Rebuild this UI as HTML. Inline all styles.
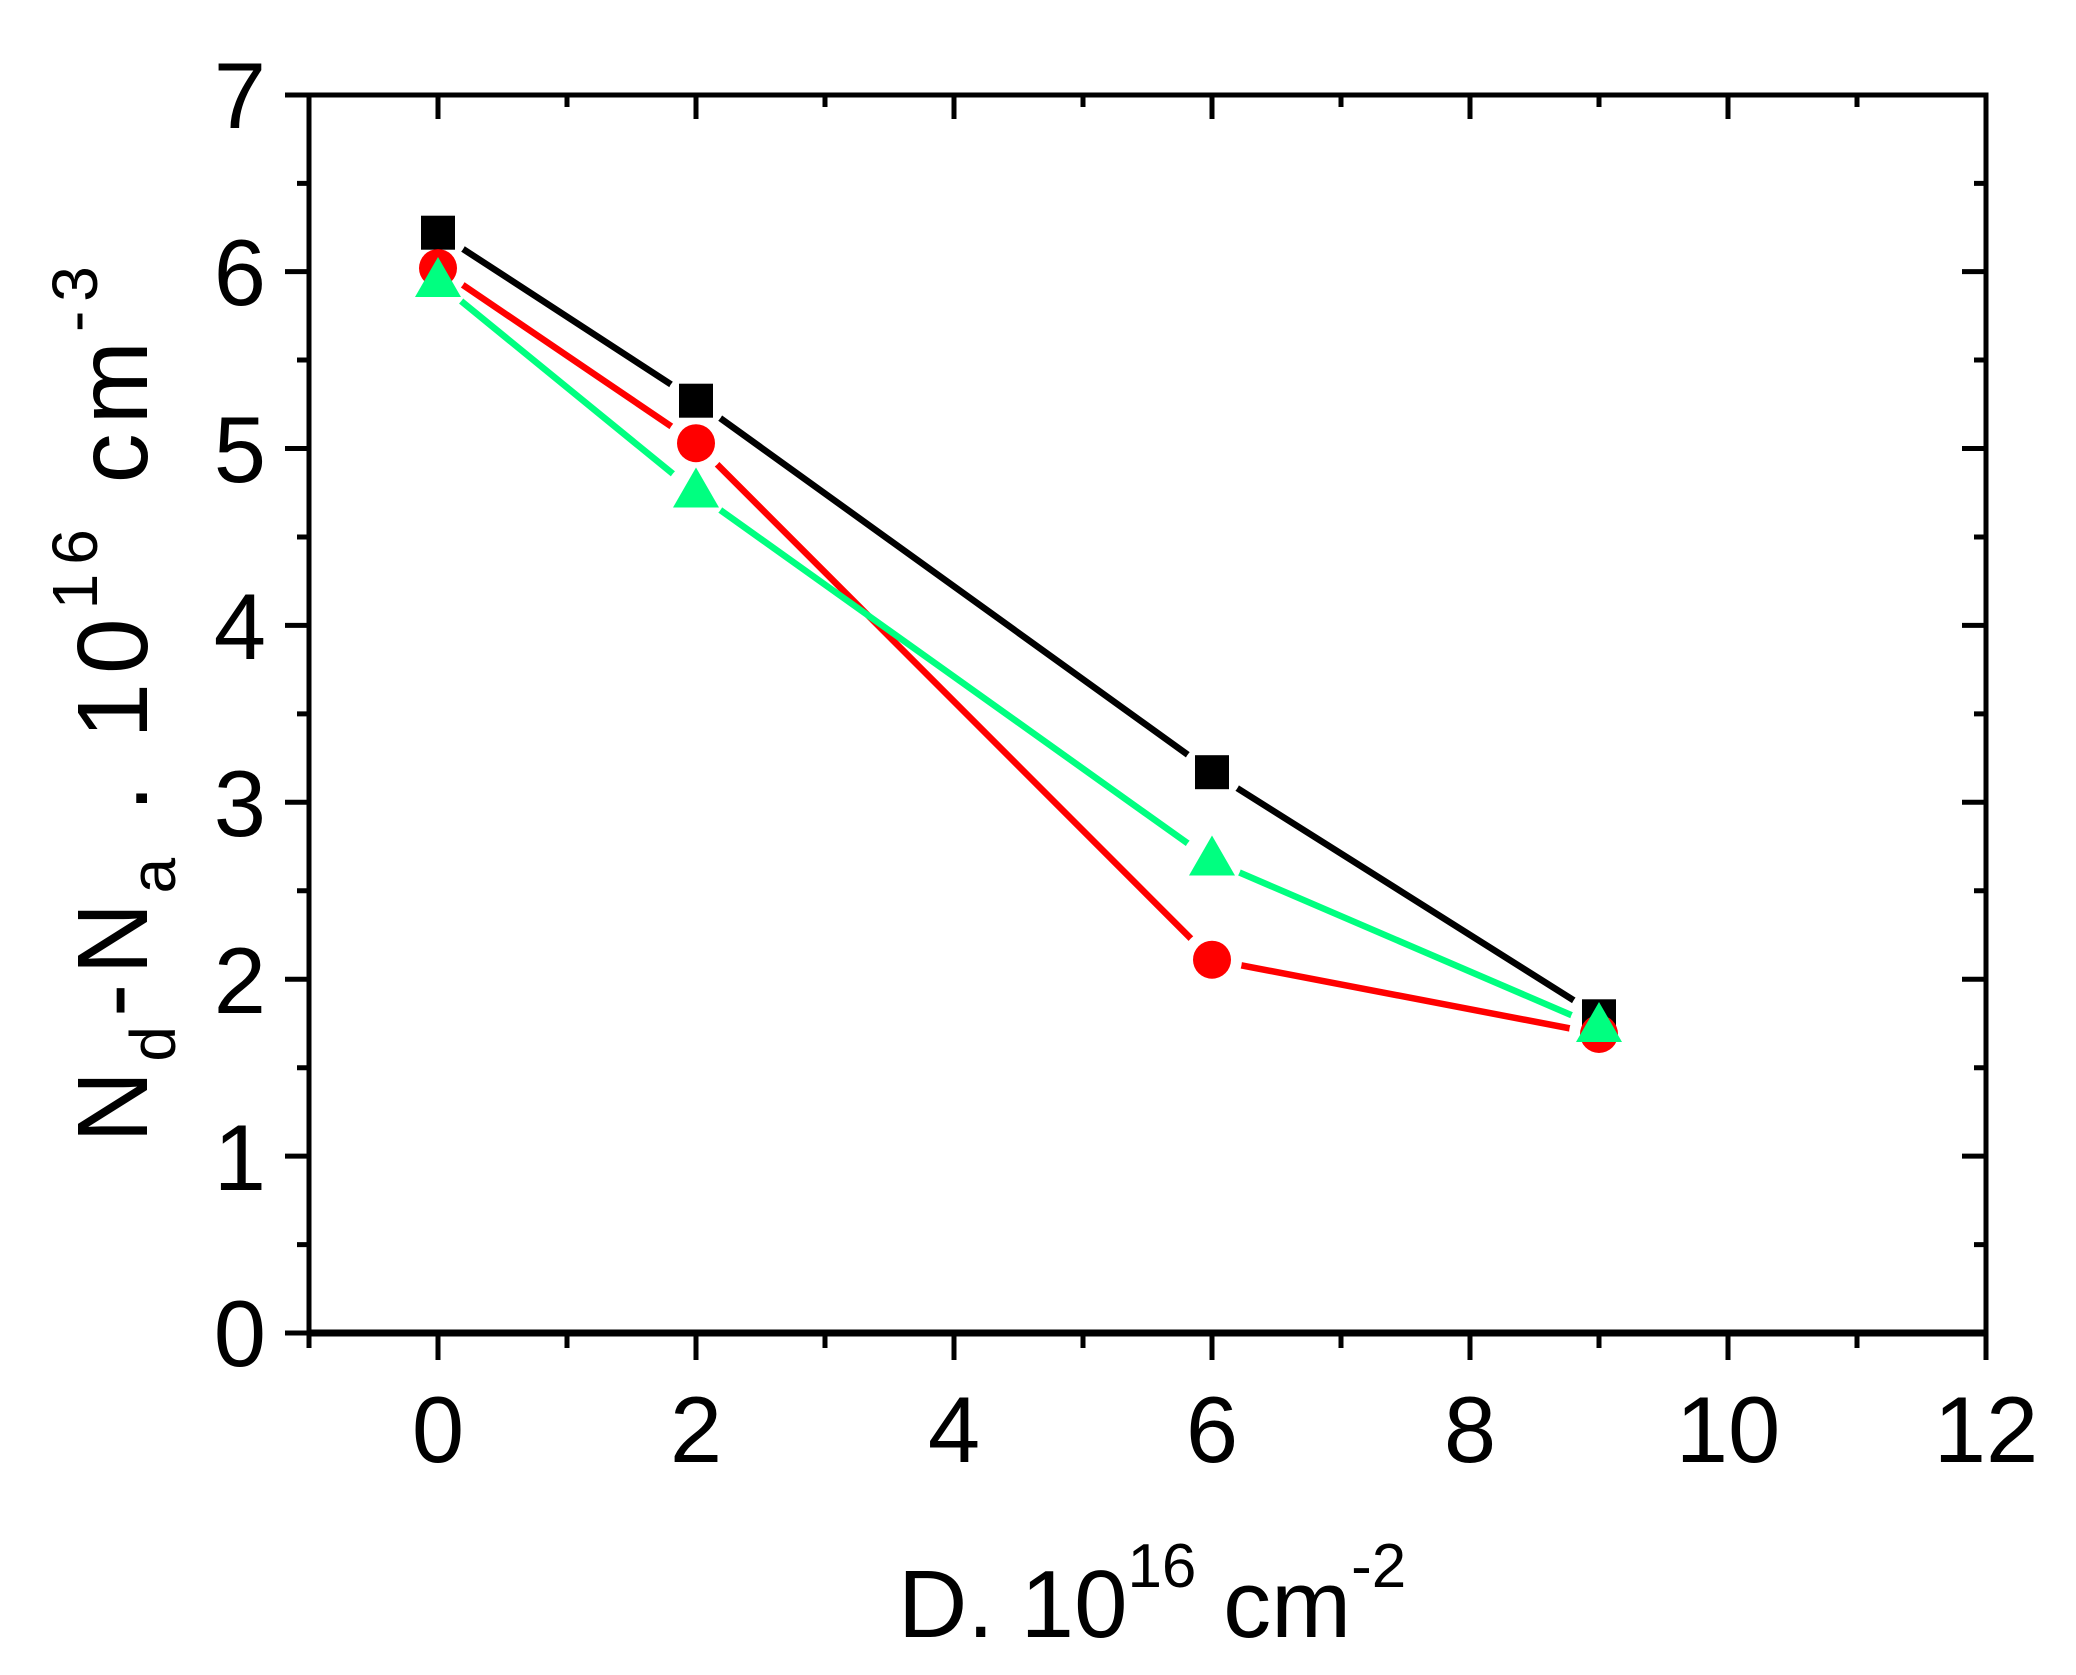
<!DOCTYPE html>
<html><head><meta charset="utf-8"><style>html,body{margin:0;padding:0;background:#fff}svg{display:block}</style></head>
<body>
<svg width="2076" height="1675" viewBox="0 0 2076 1675" xmlns="http://www.w3.org/2000/svg" font-family="Liberation Sans, Arial, sans-serif">
<defs>
<mask id="mb" maskUnits="userSpaceOnUse" x="0" y="0" width="2076" height="1675"><rect width="2076" height="1675" fill="#fff"/>
<circle cx="438" cy="232.7" r="30"/><circle cx="696" cy="400.7" r="30"/><circle cx="1212" cy="772.2" r="30"/><circle cx="1599" cy="1016.3" r="30"/></mask>
<mask id="mr" maskUnits="userSpaceOnUse" x="0" y="0" width="2076" height="1675"><rect width="2076" height="1675" fill="#fff"/>
<circle cx="438" cy="268.1" r="30"/><circle cx="696" cy="443.2" r="30"/><circle cx="1212" cy="959.7" r="30"/><circle cx="1599" cy="1034" r="30"/></mask>
<mask id="mg" maskUnits="userSpaceOnUse" x="0" y="0" width="2076" height="1675"><rect width="2076" height="1675" fill="#fff"/>
<circle cx="438" cy="282.2" r="30"/><circle cx="696" cy="492.7" r="30"/><circle cx="1212" cy="860.7" r="30"/><circle cx="1599" cy="1027" r="30"/></mask>
</defs>
<rect x="309" y="95" width="1677" height="1238" fill="none" stroke="#000" stroke-width="5"/>
<line x1="307" y1="1333" x2="1988" y2="1333" stroke="#000" stroke-width="7"/>
<g stroke="#000" stroke-width="5">
<path d="M285 95H309M285 271.6H309M285 448.5H309M285 625.4H309M285 802.3H309M285 979.2H309M285 1156.1H309M285 1333H309"/>
<path d="M297 183.4H309M297 360H309M297 537H309M297 713.9H309M297 890.8H309M297 1067.7H309M297 1244.6H309"/>
<path d="M1962 271.6H1986M1962 448.5H1986M1962 625.4H1986M1962 802.3H1986M1962 979.2H1986M1962 1156.1H1986"/>
<path d="M1974 183.4H1986M1974 360H1986M1974 537H1986M1974 713.9H1986M1974 890.8H1986M1974 1067.7H1986M1974 1244.6H1986"/>
<path d="M438 1333V1360M696 1333V1360M954 1333V1360M1212 1333V1360M1470 1333V1360M1728 1333V1360M1986 1333V1360M309 1333V1348"/>
<path d="M567 1333V1348M825 1333V1348M1083 1333V1348M1341 1333V1348M1599 1333V1348M1857 1333V1348"/>
<path d="M438 95V119M696 95V119M954 95V119M1212 95V119M1470 95V119M1728 95V119"/>
<path d="M567 95V107M825 95V107M1083 95V107M1341 95V107M1599 95V107M1857 95V107"/>
</g>
<g font-size="94" text-anchor="end" fill="#000">
<text x="266" y="128">7</text><text x="266" y="305">6</text><text x="266" y="482">5</text><text x="266" y="659">4</text><text x="266" y="836">3</text><text x="266" y="1013">2</text><text x="266" y="1190">1</text><text x="266" y="1366">0</text>
</g>
<g font-size="94" text-anchor="middle" fill="#000">
<text x="438" y="1462">0</text><text x="696" y="1462">2</text><text x="954" y="1462">4</text><text x="1212" y="1462">6</text><text x="1470" y="1462">8</text><text x="1728" y="1462">10</text><text x="1986" y="1462">12</text>
</g>
<text x="898" y="1637" font-size="96" fill="#000">D. 10<tspan font-size="62" dy="-50">16</tspan><tspan dy="50"> cm</tspan><tspan font-size="62" dy="-50">-2</tspan></text>
<text transform="translate(147,700) rotate(-90)" text-anchor="middle" font-size="100" letter-spacing="9" fill="#000">N<tspan font-size="64" dy="28">d</tspan><tspan dy="-28">-N</tspan><tspan font-size="64" dy="28">a</tspan><tspan dy="-28"> . 10</tspan><tspan font-size="64" dy="-50">16</tspan><tspan dy="50"> cm</tspan><tspan font-size="64" dy="-50">-3</tspan></text>
<polyline mask="url(#mb)" points="438,232.7 696,400.7 1212,772.2 1599,1016.3" fill="none" stroke="#000" stroke-width="6.5"/>
<polyline mask="url(#mr)" points="438,268.1 696,443.2 1212,959.7 1599,1034" fill="none" stroke="#ff0000" stroke-width="6.5"/>
<polyline mask="url(#mg)" points="438,282.2 696,492.7 1212,860.7 1599,1027" fill="none" stroke="#00ff80" stroke-width="6.5"/>
<g fill="#000">
<rect x="421" y="215.7" width="34" height="34"/><rect x="679" y="383.7" width="34" height="34"/><rect x="1195" y="755.2" width="34" height="34"/><rect x="1582" y="999.3" width="34" height="34"/>
</g>
<g fill="#ff0000">
<circle cx="438" cy="268.1" r="19"/><circle cx="696" cy="443.2" r="19"/><circle cx="1212" cy="959.7" r="19"/><circle cx="1599" cy="1034" r="19"/>
</g>
<g fill="#00ff80">
<polygon points="438,257 461,297 415,297"/><polygon points="696,467.5 719,507.5 673,507.5"/><polygon points="1212,835.5 1235,875.5 1189,875.5"/><polygon points="1599,1002 1622,1042 1576,1042"/>
</g>
</svg>
</body></html>
